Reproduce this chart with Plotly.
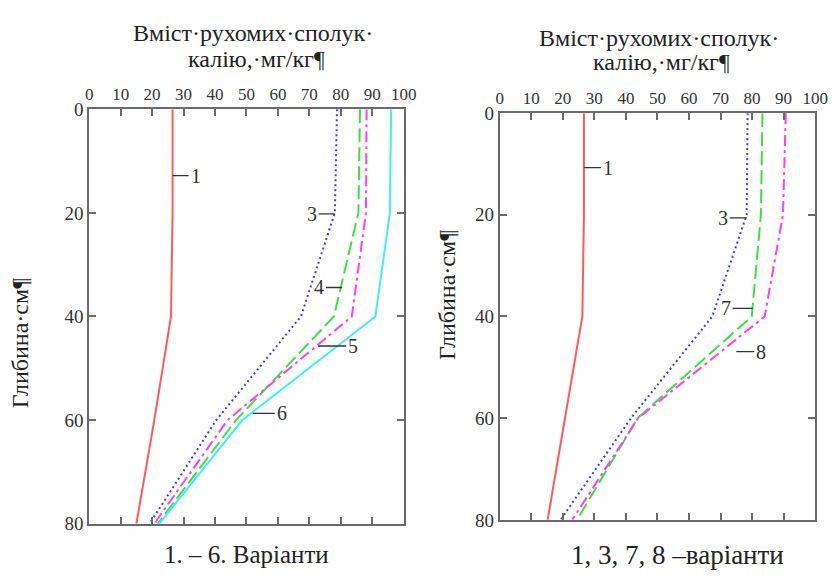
import plotly.graph_objects as go

depth = [0, 20, 40, 60, 80]

# Left panel (variants 1-6)
left_v1 = [26.5, 26.5, 26.0, 20.7, 15.0]
left_v3 = [78.8, 78.1, 67.3, 40.4, 19.2]
left_v4 = [86.1, 85.6, 77.8, 46.7, 21.8]
left_v5 = [88.2, 88.0, 83.5, 44.0, 20.7]
left_v6 = [96.0, 95.6, 91.0, 48.7, 22.3]

# Right panel (variants 1, 3, 7, 8)
right_v1 = [26.7, 26.7, 26.2, 20.8, 15.2]
right_v3 = [78.6, 78.3, 67.4, 41.6, 19.3]
right_v7 = [83.3, 82.8, 79.9, 43.7, 24.5]
right_v8 = [90.7, 89.8, 84.0, 43.9, 23.0]

x_ticks = [0, 10, 20, 30, 40, 50, 60, 70, 80, 90, 100]
y_ticks = [0, 20, 40, 60, 80]

title_line1 = "Вміст·рухомих·сполук·"
title_line2 = "калію,·мг/кг¶"
y_title = "Глибина·см¶"
cap_left = "1. – 6. Варіанти"
cap_right = "1, 3, 7, 8 –варіанти"

RED = "#ff5a5a"
BLUE = "#3a3aff"
GREEN = "#3ee03e"
MAG = "#ff3cff"
CYAN = "#3ff0f0"

DOT = "2px,3px"
LDASH = "14px,5px"
DDOT = "11px,4px,3px,4px"

fig = go.Figure()

def add(x, y, color, dash, xa, ya):
    fig.add_trace(go.Scatter(x=x, y=y, mode="lines", xaxis=xa, yaxis=ya,
                             line=dict(color=color, width=2, dash=dash),
                             showlegend=False, hoverinfo="skip"))

add(left_v1, depth, RED, "solid", "x", "y")
add(left_v3, depth, BLUE, DOT, "x", "y")
add(left_v4, depth, GREEN, LDASH, "x", "y")
add(left_v5, depth, MAG, DDOT, "x", "y")
add(left_v6, depth, CYAN, "solid", "x", "y")

add(right_v1, depth, RED, "solid", "x2", "y2")
add(right_v3, depth, BLUE, DOT, "x2", "y2")
add(right_v7, depth, GREEN, LDASH, "x2", "y2")
add(right_v8, depth, MAG, DDOT, "x2", "y2")

W, H = 835, 580
FRAME = "#6a6a6a"
FONT = "Liberation Serif"

def xax(l, r):
    return dict(domain=[l / W, r / W], range=[0, 100], side="top", tickvals=x_ticks,
                ticks="inside", ticklen=7, tickwidth=1.5, tickcolor=FRAME,
                showline=True, linecolor=FRAME, linewidth=2, mirror="ticks",
                showgrid=False, zeroline=False,
                tickfont=dict(family=FONT, size=17, color="#333"))

def yax(t, b, anchor):
    return dict(domain=[1 - b / H, 1 - t / H], range=[80, 0], tickvals=y_ticks,
                ticks="inside", ticklen=7, tickwidth=1.5, tickcolor=FRAME,
                showline=True, linecolor=FRAME, linewidth=2, mirror="ticks",
                showgrid=False, zeroline=False, anchor=anchor,
                tickfont=dict(family=FONT, size=19, color="#333"))

layout = dict(
    width=W, height=H, margin=dict(l=0, r=0, t=0, b=0),
    paper_bgcolor="white", plot_bgcolor="white",
    xaxis=dict(xax(87, 408), anchor="y"),
    yaxis=yax(103, 533, "x"),
    xaxis2=dict(xax(506, 828), anchor="y2"),
    yaxis2=yax(107, 529, "x2"),
)
fig.update_layout(**layout)

anns = []
def lab(text, x, y, ax, xa, ya):
    anns.append(dict(text=text, x=x, y=y, xref=xa, yref=ya, ax=ax, ay=0,
                     showarrow=True, arrowhead=0, arrowwidth=1.3, arrowcolor="#333",
                     font=dict(family=FONT, size=20, color="#333"),
                     xanchor="left" if ax > 0 else "right"))

lab("1", 26.5, 12.8, 16, "x", "y")
lab("3", 78.1, 20.2, -16, "x", "y")
lab("4", 80.4, 34.4, -16, "x", "y")
lab("5", 72.8, 45.7, 28, "x", "y")
lab("6", 52.0, 58.7, 22, "x", "y")

lab("1", 26.7, 10.7, 17, "x2", "y2")
lab("3", 78.3, 20.6, -17, "x2", "y2")
lab("7", 80.2, 38.4, -20, "x2", "y2")
lab("8", 75.0, 46.9, 18, "x2", "y2")

def ptext(text, x, y, size, angle=0):
    anns.append(dict(text=text, x=x / W, y=1 - y / H, xref="paper", yref="paper",
                     showarrow=False, textangle=angle,
                     font=dict(family=FONT, size=size, color="#222"),
                     xanchor="center", yanchor="middle"))

ptext(title_line1, 254, 24, 24)
ptext(title_line2, 258, 51, 24)
ptext(title_line1, 669, 29, 24)
ptext(title_line2, 671, 54, 24)
ptext(y_title, 17, 346, 24, -90)
ptext(y_title, 452, 296, 24, -90)
ptext(cap_left, 248, 565, 25)
ptext(cap_right, 688, 565, 27)

fig.update_layout(annotations=anns)
fig.write_html("out.html")
